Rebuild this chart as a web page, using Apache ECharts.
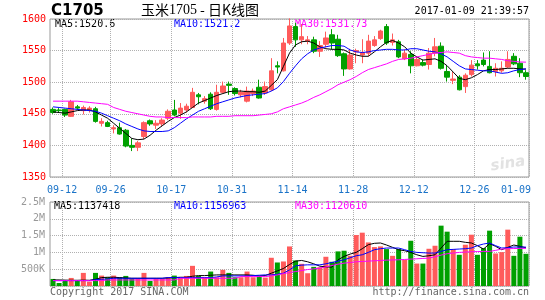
<!DOCTYPE html>
<html><head><meta charset="utf-8">
<script src="https://cdn.jsdelivr.net/npm/echarts@6/dist/echarts.min.js"></script>
<style>html,body{margin:0;padding:0;background:#fff}#c{width:545px;height:300px}</style>
</head><body><div id="c"></div>
<script>
const dates = ['09-09','09-12','09-13','09-14','09-19','09-20','09-21','09-22','09-23','09-26','09-27','09-28','09-29','09-30',
'10-10','10-11','10-12','10-13','10-14','10-17','10-18','10-19','10-20','10-21','10-24','10-25','10-26','10-27','10-28','10-31',
'11-01','11-02','11-03','11-04','11-07','11-08','11-09','11-10','11-11','11-14','11-15','11-16','11-17','11-18','11-21','11-22','11-23','11-24','11-25','11-28','11-29','11-30',
'12-01','12-02','12-05','12-06','12-07','12-08','12-09','12-12','12-13','12-14','12-15','12-16','12-19','12-20','12-21','12-22','12-23','12-26','12-27','12-28','12-29','12-30',
'01-03','01-04','01-05','01-06','01-09'];
const tickLabels = ['09-12','09-26','10-17','10-31','11-14','11-28','12-12','12-26','01-09'];
const priceTicks = [1350,1400,1450,1500,1550,1600];
const opens  = [1457,1456,1457,1446,1461,1455,1456,1458,1435,1436, 1426,1428,1424,1400,1397,1414,1439,1432,1434,1443,
 1456,1451,1456,1460,1480,1470,1481,1457,1484,1497, 1490,1480,1470,1482,1492,1483,1488,1526,1518,1562,
 1588,1567,1565,1567,1549,1560,1575,1568,1545,1521, 1548,1543,1546,1558,1569,1588,1563,1564,1537,1544,
 1526,1531,1528,1546,1557,1517,1503,1508,1493,1512, 1529,1535,1525,1517,1518,1524,1541,1530,1515];
const closes = [1452,1455,1448,1469,1459,1460,1459,1438,1438,1430, 1428,1418,1399,1397,1404,1436,1434,1435,1440,1454,
 1448,1459,1462,1484,1477,1474,1458,1484,1494,1495, 1482,1484,1486,1486,1475,1493,1518,1524,1562,1589,
 1567,1572,1567,1549,1558,1570,1562,1542,1521,1543, 1550,1547,1565,1567,1581,1562,1567,1540,1546,1526,
 1536,1527,1546,1556,1522,1508,1505,1488,1511,1527, 1526,1528,1515,1522,1522,1536,1529,1515,1509];
const highs  = [1460,1459,1458,1472,1464,1463,1462,1461,1443,1439, 1432,1436,1426,1411,1407,1438,1441,1440,1443,1457,
 1472,1467,1466,1491,1483,1478,1484,1496,1501,1501, 1492,1488,1493,1490,1504,1501,1538,1533,1570,1601,
 1594,1592,1573,1572,1565,1580,1584,1575,1547,1553, 1553,1568,1575,1573,1583,1592,1577,1567,1552,1549,
 1541,1536,1554,1570,1563,1527,1517,1511,1514,1535, 1535,1547,1549,1530,1533,1549,1546,1538,1519];
const lows   = [1450,1452,1445,1445,1456,1449,1452,1436,1430,1429, 1419,1417,1397,1391,1391,1410,1431,1426,1430,1440,
 1446,1442,1452,1459,1465,1466,1456,1455,1482,1480, 1479,1476,1468,1478,1474,1480,1486,1514,1517,1559,
 1556,1560,1560,1546,1540,1555,1552,1540,1510,1520, 1530,1530,1541,1556,1567,1559,1558,1538,1535,1514,
 1525,1525,1520,1541,1520,1501,1497,1487,1483,1509, 1520,1525,1514,1509,1515,1522,1527,1508,1504];
const ma5  = [1453,1452,1451,1453,1455,1456,1456,1453,1448,1443, 1435,1427,1419,1411,1409,1410,1416,1424,1431,1438,
 1444,1448,1453,1460,1467,1471,1475,1479,1482,1485, 1486,1486,1485,1485,1484,1486,1495,1504,1525,1546,
 1559,1564,1565,1562,1556,1553,1552,1552,1551,1546, 1543,1541,1541,1548,1556,1563,1566,1562,1556,1546,
 1540,1535,1536,1537,1533,1526,1516,1506,1504,1507, 1512,1518,1520,1520,1521,1522,1522,1521,1520.6];
const ma10 = [1461,1460,1459,1458,1457,1456,1455,1454,1451,1447, 1443,1439,1434,1430,1426,1423,1422,1422,1422,1423,
 1428,1435,1442,1448,1454,1458,1462,1466,1469,1472, 1475,1477,1479,1480,1481,1482,1486,1491,1501,1514,
 1526,1537,1545,1551,1554,1556,1558,1558,1557,1551, 1548,1547,1548,1550,1551,1552,1552,1551,1551,1553,
 1553,1551,1549,1548,1545,1540,1533,1526,1521,1520, 1519,1518,1518,1516,1514,1515,1518,1520,1521.2];
const ma30 = [1470,1470,1470,1470,1470,1469,1468,1467,1466,1465, 1460,1457,1454,1452,1450,1448,1446,1445,1445,1444,
 1444,1444,1444,1445,1445,1445,1445,1446,1446,1446, 1447,1447,1447,1447,1448,1449,1450,1453,1458,1461,
 1464,1467,1471,1476,1480,1485,1490,1496,1500,1504, 1509,1515,1520,1523,1526,1529,1533,1536,1537,1538,
 1540,1542,1544,1546,1547,1548,1547,1546,1542,1540, 1539,1538,1538,1537,1536,1534,1533,1532,1531.73];
// volumes in thousands (K)
const volumes = [210,90,150,240,150,390,130,390,310,260, 310,260,300,220,220,390,150,210,210,260,
 310,260,300,600,300,260,430,260,480,390, 260,260,430,260,300,250,840,700,730,1177,
 760,660,380,570,560,870,720,1030,1050,900, 1517,1587,1297,1158,1178,1098,898,1098,778,1347,
 668,668,1108,1198,1796,1617,1098,928,1228,1527, 928,1128,1647,968,1008,1677,898,1467,958];
const vma5  = [180,180,175,170,170,175,170,200,250,260, 260,250,240,230,230,230,230,230,230,240,
 250,260,260,290,310,310,320,330,330,330, 330,330,330,320,300,310,380,450,520,640,
 740,760,720,660,590,570,560,780,880,950, 1000,1110,1230,1270,1280,1220,1150,1080,1050,1000,
 930,880,900,930,1130,1330,1330,1330,1300,1280, 1200,1100,1260,1180,1080,1150,1220,1180,1137.418];
const vma10 = [160,160,160,160,160,160,160,190,200,210, 230,230,230,230,230,230,230,230,230,250,
 250,250,250,250,250,250,250,270,300,300, 300,300,300,310,320,330,330,350,380,480,
 600,620,630,630,630,660,700,740,780,840, 900,930,1000,1080,1110,1130,1130,1130,1080,1030,
 1000,990,980,980,1030,1080,1090,1100,1110,1130, 1200,1250,1280,1200,1130,1140,1160,1160,1156.963];
const vma30 = [160,160,160,160,160,160,160,160,160,180, 180,180,180,180,180,180,180,180,180,180,
 180,230,230,230,230,230,230,230,230,230, 230,280,280,280,280,280,300,330,370,400,
 430,460,490,510,530,570,610,650,680,700, 720,730,740,750,760,770,775,780,790,800,
 810,820,830,870,920,960,980,1000,1010,1020, 1025,1030,1030,1060,1100,1110,1115,1118,1120.61];
const volTicks = [0,500,1000,1500,2000,2500];
const legendPrice = ['MA5:1520.6','MA10:1521.2','MA30:1531.73'];
const legendVol = ['MA5:1137418','MA10:1156963','MA30:1120610'];

const UP = '#ff5b5b', DOWN = '#00a000';
const MONO = '"DejaVu Sans Mono", monospace';
const GRIDC = '#b0b0b0';
const labelIdx = tickLabels.map(t => dates.indexOf(t));
const splitIdx = labelIdx.filter(i => i < dates.length - 1).map(i => i + 1);

const chart = echarts.init(document.getElementById('c'), null, {renderer: 'canvas'});
const xCommon = {
  type: 'category', data: dates, boundaryGap: true,
  axisLine: {show: false}, axisTick: {show: false},
  splitLine: {show: true, interval: (i) => splitIdx.includes(i), lineStyle: {type: 'dotted', color: GRIDC, width: 1}}
};
chart.setOption({
  animation: false,
  grid: [
    {left: 50, top: 19, width: 479, height: 158, show: true, borderColor: '#999', borderWidth: 1, backgroundColor: 'transparent'},
    {left: 50, top: 202, width: 479, height: 84, show: true, borderColor: '#999', borderWidth: 1, backgroundColor: 'transparent'}
  ],
  xAxis: [
    Object.assign({}, xCommon, {gridIndex: 0,
      axisLabel: {show: true, interval: (i) => labelIdx.includes(i), margin: 8,
        formatter: (v, i) => (i === dates.length - 1 ? '{e|' + v + '}' : '{n|' + v + '}'),
        rich: {
          n: {fontFamily: MONO, fontSize: 10, color: '#1a73c8', padding: [0, 0, 0, 6]},
          e: {fontFamily: MONO, fontSize: 10, color: '#1a73c8', padding: [0, 20, 0, 0]}
        }}}),
    Object.assign({}, xCommon, {gridIndex: 1, axisLabel: {show: false}})
  ],
  yAxis: [
    {type: 'value', gridIndex: 0, min: priceTicks[0], max: priceTicks[priceTicks.length - 1], interval: 50,
      axisLine: {show: false}, axisTick: {show: false},
      axisLabel: {color: '#ff0000', fontFamily: MONO, fontSize: 10, margin: 4, padding: [0, 0, 3, 0],
        formatter: (v) => String(v)},
      splitLine: {show: true, lineStyle: {type: 'dotted', color: GRIDC}}},
    {type: 'value', gridIndex: 1, min: volTicks[0], max: volTicks[volTicks.length - 1], interval: 500,
      axisLine: {show: false}, axisTick: {show: false},
      axisLabel: {color: '#999', fontFamily: MONO, fontSize: 10, margin: 5,
        formatter: (v) => v === 0 ? '' : (v >= 1000 ? (v / 1000) + 'M' : v + 'K')},
      splitLine: {show: true, lineStyle: {type: 'dotted', color: GRIDC}}}
  ],
  series: [
    {type: 'candlestick', xAxisIndex: 0, yAxisIndex: 0, barWidth: 5,
      data: dates.map((d, i) => [opens[i], closes[i], lows[i], highs[i]]),
      itemStyle: {color: UP, color0: DOWN, borderColor: UP, borderColor0: DOWN, borderWidth: 1}},
    {type: 'line', xAxisIndex: 0, yAxisIndex: 0, data: ma5, symbol: 'none', lineStyle: {color: '#000', width: 1}},
    {type: 'line', xAxisIndex: 0, yAxisIndex: 0, data: ma10, symbol: 'none', lineStyle: {color: '#0000ff', width: 1}},
    {type: 'line', xAxisIndex: 0, yAxisIndex: 0, data: ma30, symbol: 'none', lineStyle: {color: '#ff00ff', width: 1}},
    {type: 'bar', xAxisIndex: 1, yAxisIndex: 1, barWidth: 5,
      data: volumes.map((v, i) => ({value: v, itemStyle: {color: closes[i] >= opens[i] ? UP : DOWN}}))},
    {type: 'line', xAxisIndex: 1, yAxisIndex: 1, data: vma5, symbol: 'none', lineStyle: {color: '#000', width: 1}},
    {type: 'line', xAxisIndex: 1, yAxisIndex: 1, data: vma10, symbol: 'none', lineStyle: {color: '#0000ff', width: 1}},
    {type: 'line', xAxisIndex: 1, yAxisIndex: 1, data: vma30, symbol: 'none', lineStyle: {color: '#ff00ff', width: 1}}
  ],
  graphic: [
    {type: 'text', x: 51, y: 11, style: {text: 'C1705', font: 'bold 15px "DejaVu Sans"', fill: '#000', verticalAlign: 'middle'}},
    {type: 'text', x: 200, y: 10, style: {text: '{a|玉米}{b|1705}{a| - 日K线图}', align: 'center', verticalAlign: 'middle',
      rich: {a: {font: '14px "Noto Sans CJK SC"', fill: '#000'}, b: {font: '14px "Liberation Serif"', fill: '#000'}}}},
    {type: 'text', x: 529, y: 11, style: {text: '2017-01-09 21:39:57', font: '10px ' + MONO, fill: '#000', align: 'right', verticalAlign: 'middle'}},
    {type: 'text', x: 55, y: 24.5, style: {text: legendPrice[0], font: '10px ' + MONO, fill: '#000', verticalAlign: 'middle'}},
    {type: 'text', x: 174, y: 24.5, style: {text: legendPrice[1], font: '10px ' + MONO, fill: '#0000ff', verticalAlign: 'middle'}},
    {type: 'text', x: 295, y: 24.5, style: {text: legendPrice[2], font: '10px ' + MONO, fill: '#ff00ff', verticalAlign: 'middle'}},
    {type: 'text', x: 54, y: 206.5, style: {text: legendVol[0], font: '10px ' + MONO, fill: '#000', verticalAlign: 'middle'}},
    {type: 'text', x: 174, y: 206.5, style: {text: legendVol[1], font: '10px ' + MONO, fill: '#0000ff', verticalAlign: 'middle'}},
    {type: 'text', x: 295, y: 206.5, style: {text: legendVol[2], font: '10px ' + MONO, fill: '#ff00ff', verticalAlign: 'middle'}},
    {type: 'text', x: 50, y: 292, style: {text: 'Copyright 2017 SINA.COM', font: '10px ' + MONO, fill: '#666', verticalAlign: 'middle'}},
    {type: 'text', x: 529, y: 292, style: {text: 'http://finance.sina.com.cn', font: '10px ' + MONO, fill: '#666', align: 'right', verticalAlign: 'middle'}},
    {type: 'text', x: 508, y: 164, rotation: 0.15, style: {text: 'sina', font: 'italic bold 15px "DejaVu Sans"', fill: '#e2e2e2', align: 'center', verticalAlign: 'middle'}, z: -1}
  ]
});
</script></body></html>
